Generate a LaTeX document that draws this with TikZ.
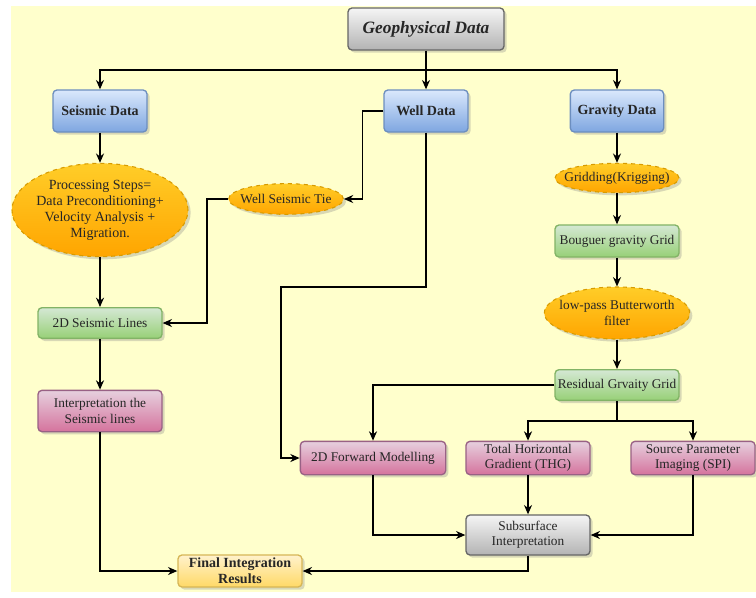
\documentclass[tikz,border=0pt]{standalone}
\usepackage{fontspec}
\setmainfont{Liberation Serif}
\usetikzlibrary{shapes.geometric,shadows,arrows.meta}
\definecolor{bgyellow}{HTML}{FFFFCC}
\definecolor{blueT}{HTML}{DAE8FC}\definecolor{blueB}{HTML}{7EA6E0}\definecolor{blueD}{HTML}{6C8EBF}
\definecolor{greenT}{HTML}{D5E8D4}\definecolor{greenB}{HTML}{97D077}\definecolor{greenD}{HTML}{82B366}
\definecolor{pinkT}{HTML}{E6D0DE}\definecolor{pinkB}{HTML}{D5739D}\definecolor{pinkD}{HTML}{996185}
\definecolor{orangeT}{HTML}{FFCD28}\definecolor{orangeB}{HTML}{FFA500}\definecolor{orangeD}{HTML}{D79B00}
\definecolor{grayT}{HTML}{F5F5F5}\definecolor{grayB}{HTML}{B3B3B3}\definecolor{grayD}{HTML}{666666}
\definecolor{goldT}{HTML}{FFF2CC}\definecolor{goldB}{HTML}{FFD966}\definecolor{goldD}{HTML}{D6B656}
\begin{document}
\begin{tikzpicture}[x=0.75pt, y=-0.75pt, line width=1.2pt,
  box/.style={rectangle, rounded corners=3pt, line width=1pt, align=center, inner sep=2pt,
    text=black!85, font=\fontsize{10}{11.5}\selectfont,
    drop shadow={shadow xshift=2pt, shadow yshift=-2pt, opacity=0.3}},
  oval/.style={ellipse, dashed, line width=0.8pt, align=center, inner xsep=-8pt, inner ysep=-2pt, draw=orangeD,
    top color=orangeT, bottom color=orangeB, text=black!85, font=\fontsize{10}{11.5}\selectfont,
    drop shadow={shadow xshift=2pt, shadow yshift=-2pt, opacity=0.3}},
  bluebox/.style={box, draw=blueD, top color=blueT, bottom color=blueB, font=\fontsize{10.5}{12}\selectfont\bfseries},
  greenbox/.style={box, draw=greenD, top color=greenT, bottom color=greenB},
  pinkbox/.style={box, draw=pinkD, top color=pinkT, bottom color=pinkB},
  graybox/.style={box, draw=grayD, top color=grayT, bottom color=grayB},
  goldbox/.style={box, draw=goldD, top color=goldT, bottom color=goldB, font=\fontsize{10.5}{12}\selectfont\bfseries},
  arr/.style={-{Stealth[length=7pt, width=6pt]}}]
  \useasboundingbox (0,0) rectangle (756,597);
  \fill[bgyellow] (11,6) rectangle (756,592);
  \node[graybox, minimum width=117pt, minimum height=31.5pt, font=\fontsize{13}{15}\selectfont\bfseries\itshape] (geo) at (426,29) {Geophysical Data};
  \node[bluebox, minimum width=70.5pt, minimum height=31.5pt] (seis) at (100,111) {Seismic Data};
  \node[bluebox, minimum width=63pt, minimum height=31.5pt] (well) at (426,111) {Well Data};
  \node[bluebox, minimum width=70pt, minimum height=31.5pt] (grav) at (617,111) {Gravity Data};
  \node[oval, minimum width=132pt, minimum height=70pt, font=\fontsize{10.5}{12}\selectfont] (proc) at (100,210) {Processing Steps=\\Data Preconditioning+\\Velocity Analysis +\\Migration.};
  \node[oval, minimum width=86pt, minimum height=23pt] (tie) at (286,199) {Well Seismic Tie};
  \node[oval, minimum width=93pt, minimum height=22pt] (krig) at (617,178) {Gridding(Krigging)};
  \node[greenbox, minimum width=93pt, minimum height=24pt] (boug) at (617,241) {Bouguer gravity Grid};
  \node[oval, minimum width=109pt, minimum height=39pt] (lowpass) at (617,313) {low-pass Butterworth\\filter};
  \node[greenbox, minimum width=93pt, minimum height=23pt] (resid) at (617,385) {Residual Grvaity Grid};
  \node[greenbox, minimum width=93pt, minimum height=23pt] (lines) at (100,323) {2D Seismic Lines};
  \node[pinkbox, minimum width=93pt, minimum height=31pt] (interp) at (100,411) {Interpretation the\\Seismic lines};
  \node[pinkbox, minimum width=109pt, minimum height=25pt] (fwd) at (373,458) {2D Forward Modelling};
  \node[pinkbox, minimum width=93pt, minimum height=25pt] (thg) at (528,458) {Total Horizontal\\Gradient (THG)};
  \node[pinkbox, minimum width=93pt, minimum height=25pt] (spi) at (693,458) {Source Parameter\\Imaging (SPI)};
  \node[graybox, minimum width=93pt, minimum height=30pt] (subs) at (528,535) {Subsurface\\Interpretation};
  \node[goldbox, minimum width=93pt, minimum height=24pt] (final) at (240,571) {Final Integration\\Results};
  \coordinate (split) at (426,70);
  \coordinate (rsplit) at (617,421);
  \draw (geo) -- (split);
  \draw[arr] (split) -| (seis);
  \draw[arr] (split) -- (well);
  \draw[arr] (split) -| (grav);
  \draw[arr] (seis) -- (proc);
  \draw[arr] (proc) -- (lines);
  \draw[arr] (well.west) -- ++(-21,0) |- (tie);
  \draw[arr] (tie.west) -- ++(-21,0) |- (lines);
  \draw[arr] (well) |- ++(-145,176) |- (fwd);
  \draw[arr] (grav) -- (krig);
  \draw[arr] (krig) -- (boug);
  \draw[arr] (boug) -- (lowpass);
  \draw[arr] (lowpass) -- (resid);
  \draw[arr] (resid) -| (fwd);
  \draw (resid) -- (rsplit);
  \draw[arr] (rsplit) -| (thg);
  \draw[arr] (rsplit) -| (spi);
  \draw[arr] (lines) -- (interp);
  \draw[arr] (interp) |- (final);
  \draw[arr] (fwd) |- (subs);
  \draw[arr] (thg) -- (subs);
  \draw[arr] (spi) |- (subs);
  \draw[arr] (subs) |- (final);
\end{tikzpicture}
\end{document}
